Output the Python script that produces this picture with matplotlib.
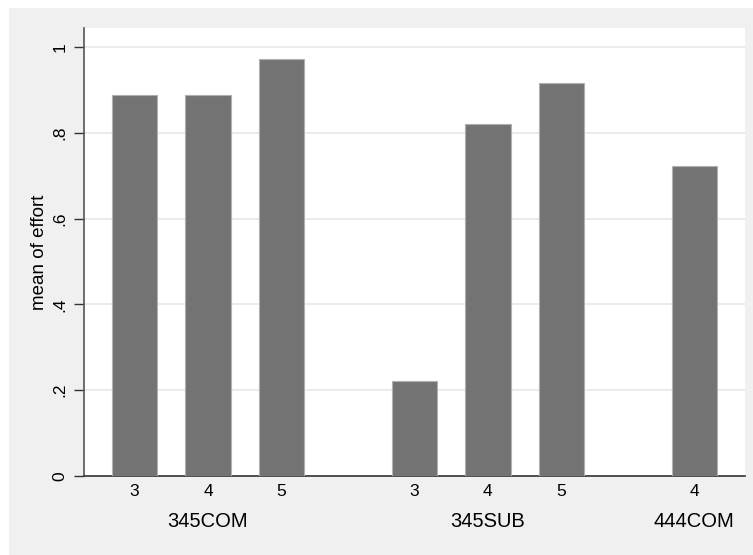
import matplotlib
matplotlib.use("Agg")
import matplotlib.pyplot as plt
from matplotlib.patches import Rectangle

groups = ["345COM", "345SUB", "444COM"]
group_cats = [["3", "4", "5"], ["3", "4", "5"], ["4"]]
values = [[0.889, 0.889, 0.973], [0.222, 0.820, 0.917], [0.722]]
yticks = [0, 0.2, 0.4, 0.6, 0.8, 1.0]
ytick_labels = ["0", ".2", ".4", ".6", ".8", "1"]
ylabel = "mean of effort"

plt.rcParams['font.family'] = ['Liberation Sans', 'DejaVu Sans']

fig = plt.figure(figsize=(7.53, 5.55), dpi=100)
fig.patch.set_facecolor("white")
fig.patches.append(Rectangle((9 / 753, 0), 1 - 9 / 753, 1 - 8 / 555,
                             transform=fig.transFigure, facecolor="#f0f0f0",
                             edgecolor="none", zorder=-10))

ax = fig.add_axes([84 / 753, 1 - 475.7 / 555, (745 - 84) / 753, (475.7 - 28) / 555])
ax.set_facecolor("white")

gap = 1.8
pos = 0.0
xs, hs, labels, group_centers = [], [], [], []
for gi, (cats, vals) in enumerate(zip(group_cats, values)):
    gx = []
    for c, v in zip(cats, vals):
        xs.append(pos)
        hs.append(v)
        labels.append(c)
        gx.append(pos)
        pos += 1
    group_centers.append(sum(gx) / len(gx))
    pos += gap - 1

ax.bar(xs, hs, width=0.615, color="#737373", edgecolor="#b0b0b0", linewidth=0.8, zorder=3)

ax.set_xlim(-0.683, 8.29)
ax.set_ylim(0, 1.045)
ax.set_yticks(yticks)
ax.set_yticklabels(ytick_labels, rotation=90, va="center", fontsize=12.5)
ax.set_xticks(xs)
ax.set_xticklabels(labels, fontsize=12.5)
ax.tick_params(axis="x", length=0, pad=6)
ax.tick_params(axis="y", length=7, width=1, color="#333333", pad=5)
ax.grid(axis="y", color="#e8e8e8", linewidth=1.2, zorder=0)
ax.set_axisbelow(True)

for s in ["top", "right"]:
    ax.spines[s].set_visible(False)
ax.spines["left"].set_color("#555555")
ax.spines["bottom"].set_color("#333333")
ax.spines["left"].set_linewidth(1.2)
ax.spines["bottom"].set_linewidth(1.2)

for g, cx in zip(groups, group_centers):
    ax.text(cx, -0.1027, g, transform=ax.get_xaxis_transform(), ha="center",
            va="center", fontsize=14.5)

fig.text(40 / 753, 1 - 252 / 555, ylabel, rotation=90, ha="center", va="center", fontsize=13.5)

fig.savefig("out.png", dpi=100, facecolor=fig.get_facecolor())
